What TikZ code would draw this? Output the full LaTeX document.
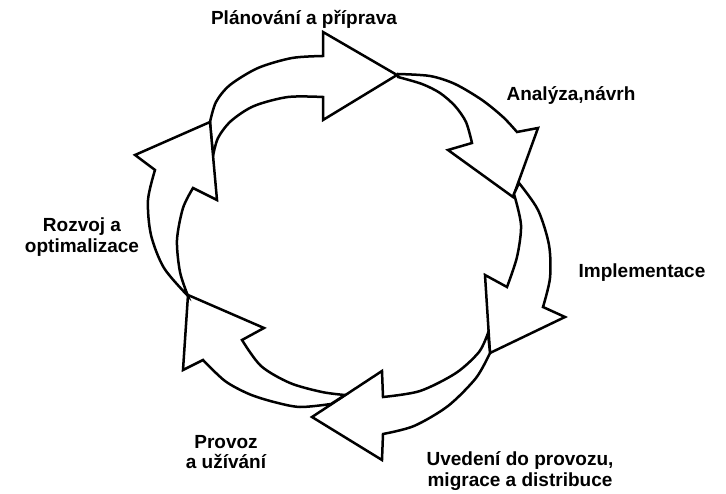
\documentclass[tikz,border=0pt]{standalone}
\usepackage{fontspec}
\setmainfont{Liberation Sans}
\begin{document}
\begin{tikzpicture}[x=1pt,y=-1pt,
  arr/.style={draw=black, fill=white, line width=2.5pt, line join=miter},
  lbl/.style={font=\bfseries\fontsize{19}{20.5}\selectfont, align=center, inner sep=0pt}]
\useasboundingbox (0,0) rectangle (726,494);
% A: top arrow (Planovani a priprava)
\path[arr] plot[smooth] coordinates {(210,122) (216,102) (230,85) (258,68) (292,58) (323,56)}
  -- (323,32) -- (397,75) -- (323,120) -- (323,97)
  -- plot[smooth] coordinates {(323,97) (288,97) (254,106) (231,121) (218,138) (213,156)} -- cycle;
% B: top right arrow
\path[arr] plot[smooth] coordinates {(398,74) (430,76) (455,84) (482,100) (503,117) (517,132)}
  -- (538,128) -- (513,197) -- (448,150) -- (472,143)
  -- plot[smooth] coordinates {(472,143) (466,122) (455,106) (440,93) (422,84) (398,77)} -- cycle;
% C: right arrow
\path[arr] plot[smooth] coordinates {(519,183) (538,210) (549,245) (550,278) (543,307)}
  -- (565,317) -- (490,353) -- (485,275) -- (507,287)
  -- plot[smooth] coordinates {(507,287) (517,257) (521,225) (514,194)} -- cycle;
% D: bottom arrow
\path[arr] plot[smooth] coordinates {(490,353) (476,378) (448,406) (414,426) (383,434)}
  -- (382,460) -- (312,417) -- (382,371) -- (383,397)
  -- plot[smooth] coordinates {(383,397) (420,391) (456,373) (479,352) (488,333)} -- cycle;
% E: bottom left arrow
\path[arr] plot[smooth] coordinates {(331,404) (300,407) (274,402) (249,394) (225,381) (203,360)}
  -- (183,370) -- (188,295) -- (264,328) -- (242,340)
  -- plot[smooth] coordinates {(242,340) (261,366) (290,383) (322,392) (345,395)} -- cycle;
% F: left arrow
\path[arr] plot[smooth] coordinates {(188,296) (164,268) (151,235) (148,200) (155,170)}
  -- (135,155) -- (210,122) -- (217,200) -- (193,188)
  -- plot[smooth] coordinates {(193,188) (183,208) (177,240) (180,272) (188,296)} -- cycle;
% labels
\node[lbl] (l1) at (304,19) {Plánování a příprava};
\node[lbl] (l2) at (571,96) {Analýza,návrh};
\node[lbl] (l3) at (642,273) {Implementace};
\node[lbl] (l4) at (520,471) {Uvedení do provozu,\\migrace a distribuce};
\node[lbl] (l5) at (226,452) {Provoz\\a užívání};
\node[lbl] (l6) at (82,237) {Rozvoj a\\optimalizace};
\end{tikzpicture}
\end{document}
